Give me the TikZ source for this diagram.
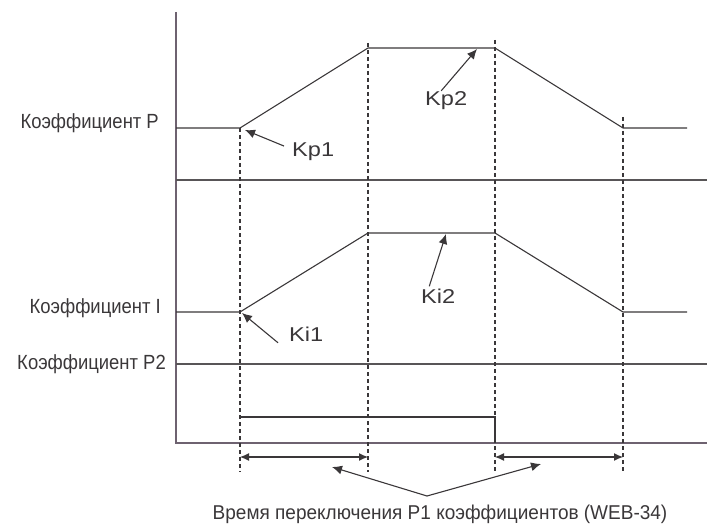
\documentclass[tikz,border=0pt]{standalone}
\usepackage{fontspec}
\setmainfont{Liberation Sans}
\newfontfamily\narrow[FakeStretch=0.9]{Liberation Sans}
\newfontfamily\narrowb[FakeStretch=0.95]{Liberation Sans}
\newfontfamily\wide[FakeStretch=1.18]{Liberation Sans}
\usetikzlibrary{arrows.meta}
\definecolor{axc}{HTML}{6E6270}
\definecolor{lnc}{HTML}{3A3739}
\begin{document}
\begin{tikzpicture}[x=1pt,y=-1pt,
  axis/.style={draw=axc,line width=1.3pt},
  curve/.style={draw=lnc,line width=1.1pt,line join=miter},
  hline/.style={draw=lnc!85,line width=1.1pt},
  dashv/.style={draw=lnc,line width=1.1pt,dash pattern=on 4pt off 3pt},
  dim/.style={draw=lnc,line width=1.1pt,{Latex[length=9pt,width=8pt]}-{Latex[length=9pt,width=8pt]}},
  ptr/.style={draw=lnc,line width=1.1pt,-{Latex[length=10pt,width=9pt]}},
  ylab/.style={font=\narrow\fontsize{20.5}{23}\selectfont,text=lnc,inner sep=0pt,anchor=base east},
  klab/.style={font=\wide\fontsize{20}{22}\selectfont,text=lnc,inner sep=0pt}]
\useasboundingbox (0,0) rectangle (707,524);
% axes
\draw[axis] (176,12) -- (176,443) -- (707,443);
% horizontal lines
\draw[hline] (176,180) -- (707,180);
\draw[hline] (176,364) -- (707,364);
% dashed verticals
\draw[dashv] (240,128) -- (240,472);
\draw[dashv] (368,43) -- (368,472);
\draw[dashv] (495,40) -- (495,472);
\draw[dashv] (623,117) -- (623,472);
% P curve
\draw[curve] (176,128) -- (240,128) -- (368,48) -- (495,48) -- (623,128) -- (687,128);
% I curve
\draw[curve] (176,312) -- (240,312) -- (368,233) -- (495,233) -- (623,312) -- (687,312);
% pulse
\draw[curve] (240,417) -- (495,417) -- (495,443);
% dimension arrows
\coordinate (d1a) at (240,457); \coordinate (d1b) at (368,457);
\coordinate (d2a) at (495,457); \coordinate (d2b) at (623,457);
\draw[dim] (d1a) -- (d1b);
\draw[dim] (d2a) -- (d2b);
% left labels
\node[ylab] (lp) at (159,129) {Коэффициент P};
\node[ylab] (li) at (161,313) {Коэффициент I};
\node[ylab] (lp2) at (166,369) {Коэффициент P2};
% K labels
\node[klab,anchor=base west] (kp1) at (292,157) {Kp1};
\node[klab,anchor=base west] (kp2) at (425,106) {Kp2};
\node[klab,anchor=base west] (ki1) at (289,341) {Ki1};
\node[klab,anchor=base west] (ki2) at (421,303) {Ki2};
\coordinate (kp1t) at (245,130);
\coordinate (kp2t) at (477,49);
\coordinate (ki1t) at (242,313);
\coordinate (ki2t) at (446,234);
\draw[ptr] ([shift={(-8pt,-3pt)}]kp1.north west) -- (kp1t);
\draw[ptr] ([shift={(-5pt,1pt)}]kp2.north) -- (kp2t);
\draw[ptr] ([shift={(-11pt,-9pt)}]ki1.west) -- (ki1t);
\draw[ptr] ([shift={(-9pt,2pt)}]ki2.north) -- (ki2t);
% bottom label
\node[font=\narrowb\fontsize{20}{23}\selectfont,text=lnc,inner sep=0pt,anchor=base] (bt) at (440,519) {Время переключения P1 коэффициентов (WEB-34)};
\coordinate (bp1) at (332,467);
\coordinate (bp2) at (541,464);
\coordinate (bc) at (427,496);
\draw[ptr] (bc) -- (bp1);
\draw[ptr] (bc) -- (bp2);
\end{tikzpicture}
\end{document}
